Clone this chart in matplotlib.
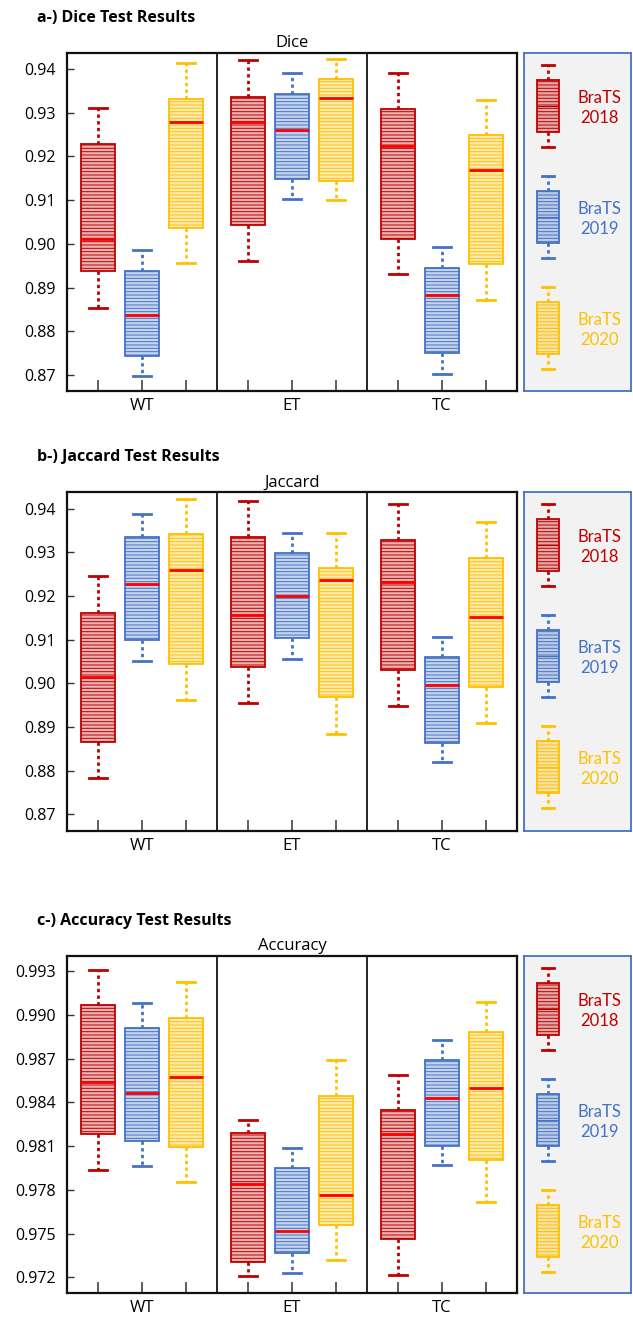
import numpy as np
import matplotlib
matplotlib.use("Agg")
import matplotlib.pyplot as plt
from matplotlib.colors import to_rgba

# -----------------------------------------------------------------------------
# Data
# -----------------------------------------------------------------------------

GROUPS = ["WT", "ET", "TC"]
SERIES = ["BraTS\n2018", "BraTS\n2019", "BraTS\n2020"]

# each box: [whisker low, Q1, median, Q3, whisker high], order 2018, 2019, 2020 per group
DICE_WT = [[0.8853, 0.8937, 0.9012, 0.9228, 0.9311],
           [0.8697, 0.8743, 0.8837, 0.8937, 0.8985],
           [0.8956, 0.9036, 0.9278, 0.9331, 0.9415]]
DICE_ET = [[0.8960, 0.9042, 0.9278, 0.9336, 0.9420],
           [0.9102, 0.9149, 0.9261, 0.9343, 0.9392],
           [0.9100, 0.9144, 0.9334, 0.9378, 0.9423]]
DICE_TC = [[0.8931, 0.9012, 0.9224, 0.9308, 0.9391],
           [0.8703, 0.8750, 0.8883, 0.8944, 0.8992],
           [0.8872, 0.8954, 0.9168, 0.9249, 0.9330]]

JACC_WT = [[0.8783, 0.8866, 0.9014, 0.9162, 0.9245],
           [0.9052, 0.9099, 0.9227, 0.9336, 0.9387],
           [0.8962, 0.9045, 0.9260, 0.9341, 0.9422]]
JACC_ET = [[0.8955, 0.9038, 0.9157, 0.9334, 0.9417],
           [0.9056, 0.9103, 0.9200, 0.9298, 0.9345],
           [0.8885, 0.8968, 0.9237, 0.9265, 0.9345]]
JACC_TC = [[0.8949, 0.9031, 0.9231, 0.9327, 0.9410],
           [0.8819, 0.8864, 0.8997, 0.9060, 0.9106],
           [0.8909, 0.8991, 0.9153, 0.9288, 0.9369]]

ACC_WT = [[0.97937, 0.98186, 0.98540, 0.99065, 0.99309],
          [0.97962, 0.98136, 0.98467, 0.98910, 0.99081],
          [0.97851, 0.98095, 0.98576, 0.98978, 0.99227]]
ACC_ET = [[0.97207, 0.97307, 0.97837, 0.98188, 0.98280],
          [0.97227, 0.97367, 0.97517, 0.97949, 0.98088],
          [0.97321, 0.97561, 0.97764, 0.98444, 0.98691]]
ACC_TC = [[0.97214, 0.97460, 0.98184, 0.98344, 0.98588],
          [0.97967, 0.98104, 0.98430, 0.98688, 0.98828],
          [0.97714, 0.98003, 0.98501, 0.98882, 0.99088]]

DICE_TICKS = [0.87, 0.88, 0.89, 0.90, 0.91, 0.92, 0.93, 0.94]
ACC_TICKS = [0.972, 0.975, 0.978, 0.981, 0.984, 0.987, 0.990, 0.993]

# -----------------------------------------------------------------------------
# Style
# -----------------------------------------------------------------------------

COLORS = ["#C00000", "#4472C4", "#FFC000"]
MEDIAN = "#FF0000"
W, H = 633, 1317

plt.rcParams["font.family"] = ["Open Sans", "DejaVu Sans"]
plt.rcParams["hatch.linewidth"] = 0.7

fig = plt.figure(figsize=(W / 100, H / 100), dpi=100)


def px_axes(x0, y0, x1, y1):
    # pixel box (top-left origin) -> figure axes
    return fig.add_axes([x0 / W, 1 - y1 / H, (x1 - x0) / W, (y1 - y0) / H])


def draw_box(ax, stats, pos, color, width, median=MEDIAN):
    d = dict(whislo=stats[0], q1=stats[1], med=stats[2], q3=stats[3], whishi=stats[4], fliers=[])
    ax.bxp([d], positions=[pos], widths=width, capwidths=width * 0.55,
           patch_artist=True, showfliers=False,
           boxprops=dict(facecolor=to_rgba(color, 0.30), edgecolor=color, linewidth=1.3, hatch="-----"),
           whiskerprops=dict(color=color, linewidth=2, linestyle=(0, (1.2, 1.2))),
           capprops=dict(color=color, linewidth=2),
           medianprops=dict(color=median, linewidth=2 if median == MEDIAN else 0.8))


def panel(top, bottom, title, subtitle, data, ticks, fmt, ylim):
    ax = px_axes(67, top, 517, bottom)
    offsets = [-0.293, 0.0, 0.293]
    positions = []
    for g, group in enumerate(data):
        for s, stats in enumerate(group):
            p = g + offsets[s]
            positions.append(p)
            draw_box(ax, stats, p, COLORS[s], 0.227)
    for sep in [0.5, 1.5]:
        ax.axvline(sep, color="black", lw=1.2)
    ax.set_xlim(-0.5, 2.5)
    ax.set_ylim(*ylim)
    ax.set_yticks(ticks)
    ax.set_yticklabels([fmt.format(t) for t in ticks])
    ax.set_xticks(positions)
    labels = []
    for g in GROUPS:
        labels += ["", g, ""]
    ax.set_xticklabels(labels)
    ax.tick_params(axis="x", direction="in", length=8, width=1.1, color="#333333",
                   labelsize=12, pad=5)
    ax.tick_params(axis="y", direction="in", length=5, width=1.0, color="#333333",
                   labelsize=11.5, pad=8)
    for sp in ax.spines.values():
        sp.set_linewidth(1.6)
        sp.set_color("#111111")
    ax.set_title(subtitle, fontsize=12, pad=4)
    fig.text(37 / W, 1 - (top - 35) / H, title, fontsize=11.5, fontweight="bold", va="center", ha="left")

    # legend panel
    lg = px_axes(524, top, 631, bottom)
    lg.set_facecolor("#F2F2F2")
    for sp in lg.spines.values():
        sp.set_color("#4472C4")
        sp.set_linewidth(1.3)
    span = bottom - top
    for s in range(3):
        base = s * 111
        glyph = [base + 94, base + 79, base + 53, base + 27, base + 12]
        draw_box(lg, glyph, 24, COLORS[s], 22, median=COLORS[s])
        lg.text(75, base + 55, SERIES[s], color=COLORS[s], ha="center", va="center",
                fontsize=12, linespacing=1.35, family=["Lato", "DejaVu Sans"])
    lg.set_xlim(0, 107)
    lg.set_ylim(span, 0)
    lg.set_xticks([])
    lg.set_yticks([])
    return ax


panel(53, 391, "a-) Dice Test Results", "Dice",
      [DICE_WT, DICE_ET, DICE_TC], DICE_TICKS, "{:.2f}", (0.8663, 0.9437))
panel(492, 831, "b-) Jaccard Test Results", "Jaccard",
      [JACC_WT, JACC_ET, JACC_TC], DICE_TICKS, "{:.2f}", (0.8662, 0.9438))
panel(956, 1293, "c-) Accuracy Test Results", "Accuracy",
      [ACC_WT, ACC_ET, ACC_TC], ACC_TICKS, "{:.3f}", (0.97093, 0.99403))

fig.savefig("out.png", dpi=100)
